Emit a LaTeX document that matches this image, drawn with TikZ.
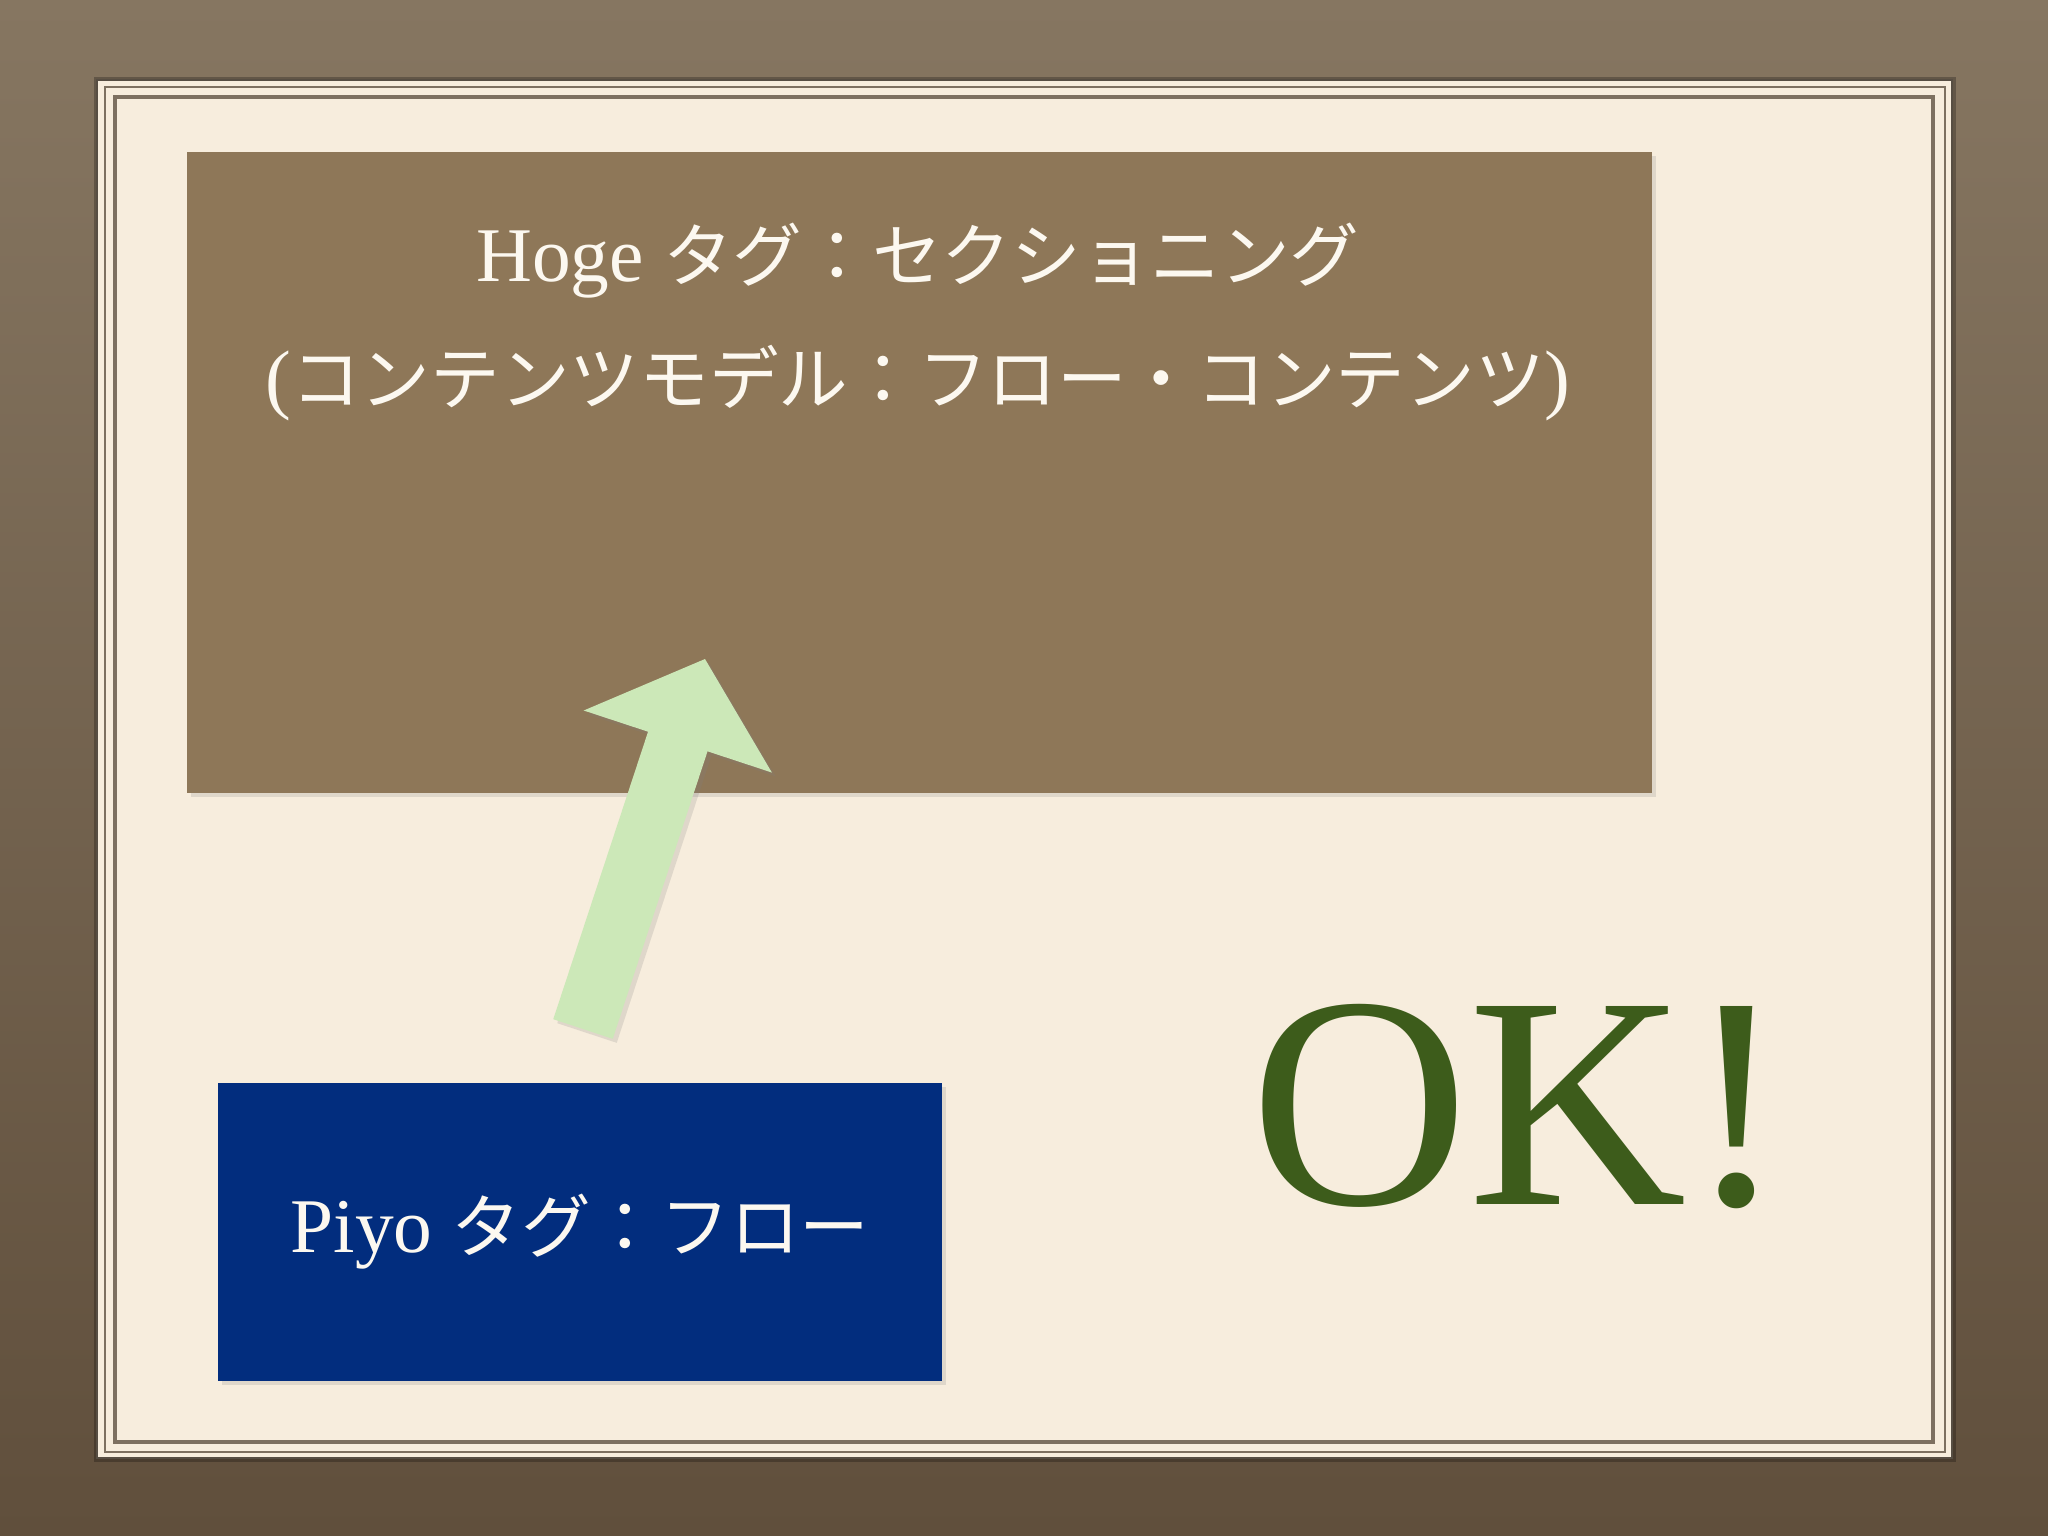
\documentclass[tikz,border=0pt]{standalone}
\usepackage{fontspec}
\usetikzlibrary{calc,shadows}
\setmainfont{Liberation Serif}
\newfontfamily\jp{Noto Sans CJK JP}[Scale=0.9]
\definecolor{frametop}{RGB}{134,118,97}
\definecolor{framebottom}{RGB}{96,79,60}
\definecolor{mat}{RGB}{247,237,221}
\definecolor{matline}{RGB}{125,112,96}
\definecolor{hogebrown}{RGB}{142,119,88}
\definecolor{piyoblue}{RGB}{2,45,126}
\definecolor{arrowgreen}{RGB}{204,232,184}
\definecolor{okgreen}{RGB}{61,92,27}
\definecolor{paper}{RGB}{252,248,240}

\begin{document}
\begin{tikzpicture}[x=0.01cm, y=-0.01cm,
	box/.style={draw=none, inner sep=0pt, drop shadow={shadow xshift=0.4mm, shadow yshift=-0.4mm, opacity=0.2}},
	boxtext/.style={text=paper, font=\fontsize{22}{26}\selectfont}]
\useasboundingbox (0,0) rectangle (2048,1536);

\fill[top color=frametop, bottom color=framebottom] (0,0) rectangle (2048,1536);
\fill[black, opacity=0.25] (94,77) rectangle (1956,1462);
\fill[mat] (97,80) rectangle (1952,1458);
\draw[matline!70!black, line width=0.6pt] (97,80) rectangle (1952,1458);
\draw[matline, line width=0.5pt] (105,87) rectangle (1945,1452);
\draw[matline, line width=1.2pt] (115,97) rectangle (1933,1442);

\node[box, fill=hogebrown, minimum width=14.65cm, minimum height=6.41cm] (hoge) at (919.5,472.5) {};
\node[boxtext] (hogetitle) at (918,261) {Hoge {\jp タグ：セクショニング}};
\node[boxtext] (hogemodel) at (918,383) {({\jp コンテンツモデル：フロー・コンテンツ})};

\node[box, fill=piyoblue, minimum width=7.24cm, minimum height=2.98cm, boxtext] (piyo) at (580,1232) {Piyo {\jp タグ：フロー}};

\coordinate (tail) at (583,1029);
\coordinate (tip) at (705,659);
\coordinate (neck) at ($(tail)!0.777!(tip)$);
\path[fill=arrowgreen, drop shadow={shadow xshift=0.4mm, shadow yshift=-0.4mm, opacity=0.2}]
	($(tail)!0.313cm!90:(tip)$) -- ($(neck)!0.313cm!90:(tip)$) -- ($(neck)!0.99cm!90:(tip)$)
	-- (tip) -- ($(neck)!0.99cm!-90:(tip)$) -- ($(neck)!0.313cm!-90:(tip)$)
	-- ($(tail)!0.313cm!-90:(tip)$) -- cycle;

\node[text=okgreen, font=\fontsize{86}{90}\selectfont, inner sep=0pt] (ok) at (1519,1107) {OK!};
\end{tikzpicture}
\end{document}
